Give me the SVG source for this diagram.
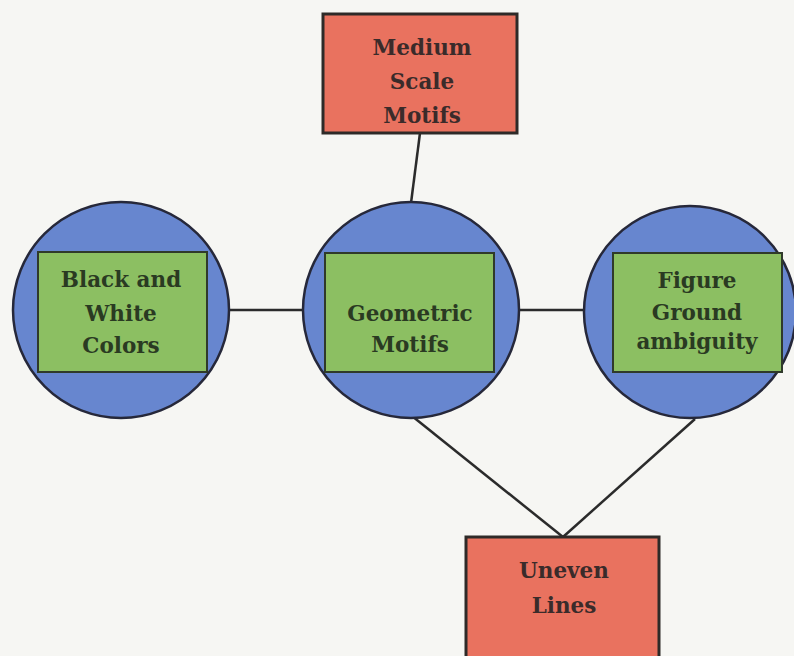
<svg xmlns="http://www.w3.org/2000/svg" width="794" height="656" viewBox="0 0 794 656">
<style>
.bg{fill:#f6f6f3}
.red{fill:#e9725f;stroke:#2e2a28;stroke-width:3}
.circ{fill:#6786cf;stroke:#26283a;stroke-width:2.5}
.green{fill:#8cbf62;stroke:#2f3a2a;stroke-width:2}
.conn{stroke:#2b2b2b;stroke-width:2.5;fill:none}
text{font-family:"DejaVu Serif","Liberation Serif",serif;font-weight:bold;font-size:21.5px;text-anchor:middle}
.tr{fill:#3a2b2a}
.tg{fill:#2a3a22}
</style>
<rect class="bg" x="0" y="0" width="794" height="656"/>
<g id="connectors">
<line class="conn" x1="420" y1="133" x2="411" y2="203"/>
<line class="conn" x1="230" y1="310" x2="302" y2="310"/>
<line class="conn" x1="520" y1="310" x2="586" y2="310"/>
<line class="conn" x1="412" y1="416" x2="563" y2="537"/>
<line class="conn" x1="695" y1="419" x2="563" y2="537"/>
</g>
<g id="medium">
<rect class="red" x="323" y="14" width="194" height="119"/>
<text class="tr" x="422" y="55">Medium</text>
<text class="tr" x="422" y="89">Scale</text>
<text class="tr" x="422" y="123">Motifs</text>
</g>
<g id="blackwhite">
<circle class="circ" cx="121" cy="310" r="108"/>
<rect class="green" x="38" y="252" width="169" height="120"/>
<text class="tg" x="121" y="287">Black and</text>
<text class="tg" x="121" y="321">White</text>
<text class="tg" x="121" y="353">Colors</text>
</g>
<g id="geometric">
<circle class="circ" cx="411" cy="310" r="108"/>
<rect class="green" x="325" y="253" width="169" height="119"/>
<text class="tg" x="410" y="321">Geometric</text>
<text class="tg" x="410" y="352">Motifs</text>
</g>
<g id="figure">
<circle class="circ" cx="690" cy="312" r="106"/>
<rect class="green" x="613" y="253" width="169" height="119"/>
<text class="tg" x="697" y="288">Figure</text>
<text class="tg" x="697" y="320">Ground</text>
<text class="tg" x="697" y="349">ambiguity</text>
</g>
<g id="uneven">
<rect class="red" x="466" y="537" width="193" height="130"/>
<text class="tr" x="564" y="578">Uneven</text>
<text class="tr" x="564" y="613">Lines</text>
</g>
</svg>
